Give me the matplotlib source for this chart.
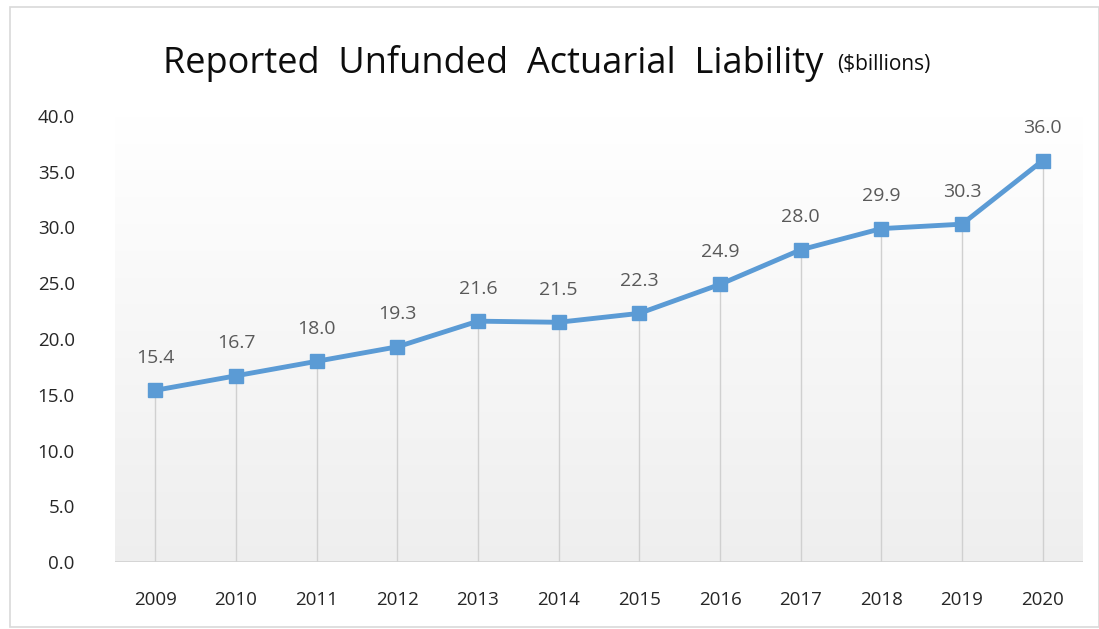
import numpy as np
import matplotlib.pyplot as plt
from matplotlib.patches import Rectangle

years = ['2009', '2010', '2011', '2012', '2013', '2014', '2015', '2016', '2017', '2018', '2019', '2020']
liability = [15.4, 16.7, 18.0, 19.3, 21.6, 21.5, 22.3, 24.9, 28.0, 29.9, 30.3, 36.0]
yticks = [0, 5, 10, 15, 20, 25, 30, 35, 40]

W, H = 1099, 629
fig = plt.figure(figsize=(W / 100, H / 100), dpi=100)
plt.rcParams['font.family'] = ['Open Sans', 'DejaVu Sans']

# outer chart border
fig.patches.append(Rectangle((10 / W, 1 - 627 / H), (W - 10) / W, 620 / H,
                             transform=fig.transFigure, fill=False,
                             edgecolor='#d9d9d9', linewidth=1.2))

ax = fig.add_axes([115 / W, 1 - 562 / H, (1083 - 115) / W, (562 - 116) / H])
x = np.arange(len(years))
ax.set_xlim(-0.5, len(years) - 0.5)
ax.set_ylim(0, 40)

# gradient background of plot area
grad = np.linspace(0.935, 1.0, 256).reshape(-1, 1)
ax.imshow(np.dstack([grad, grad, grad]), extent=[-0.5, len(years) - 0.5, 0, 40],
          aspect='auto', origin='lower', zorder=0)

# drop lines
ax.vlines(x, 0, liability, color='#d0d0d0', linewidth=1, zorder=1)
ax.axhline(0, color='#d0d0d0', linewidth=1.2, zorder=1)

ax.plot(x, liability, color='#5B9BD5', linewidth=3.5, marker='s', markersize=10, zorder=3)

for xi, v in zip(x, liability):
    ax.annotate(f'{v:.1f}', (xi, v), xytext=(0, 17), textcoords='offset points',
                ha='center', va='bottom', fontsize=14, color='#595959')

ax.set_xticks(x)
ax.set_xticklabels(years, fontsize=13.5, color='#262626')
ax.set_yticks(yticks)
ax.set_yticklabels([f'{t:.1f}' for t in yticks], fontsize=13.5, color='#262626')
ax.tick_params(axis='x', length=0, pad=21)
ax.tick_params(axis='y', length=0, pad=29)
for s in ax.spines.values():
    s.set_visible(False)

t1 = fig.text(163 / W, 1 - 73 / H, 'Reported  Unfunded  Actuarial  Liability', fontsize=26,
              color='#0d0d0d', ha='left', va='baseline')
fig.canvas.draw()
bb = t1.get_window_extent()
fig.text((bb.x1 + 14) / W, 1 - 70 / H, '($billions)', fontsize=15, color='#0d0d0d',
         ha='left', va='baseline')

fig.savefig('out.png', dpi=100)
